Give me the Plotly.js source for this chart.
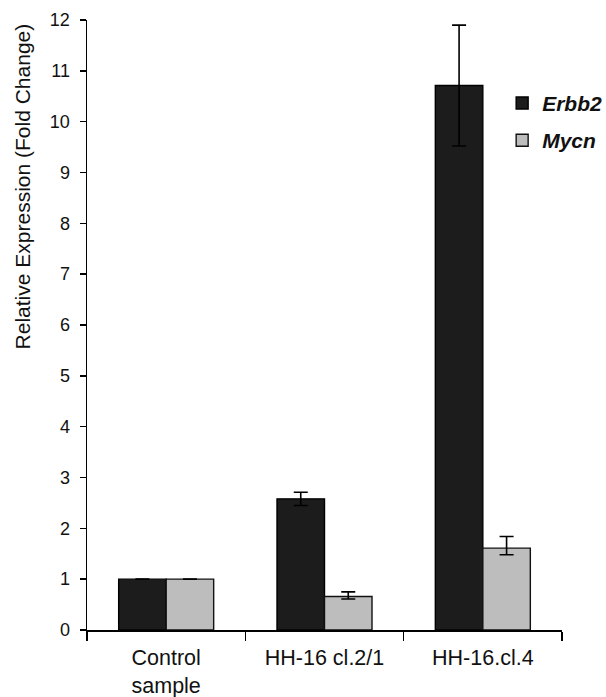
<!DOCTYPE html>
<html><head><meta charset="utf-8">
<script src="https://cdn.plot.ly/plotly-3.0.1.min.js"></script>
<style>body{margin:0;background:#fff}#c{width:606px;height:697px}</style>
</head><body><div id="c"></div>
<script>
const categories = ["Control<br>sample", "HH-16 cl.2/1", "HH-16.cl.4"];
const erbb2 = [1.0, 2.58, 10.71];
const erbb2Err = [0, 0.13, 1.19];
const mycn = [1.0, 0.66, 1.61];
const mycnErrPlus = [0, 0.09, 0.23];
const mycnErrMinus = [0, 0.05, 0.13];
const yTicks = [0,1,2,3,4,5,6,7,8,9,10,11,12];
const yTitle = 'Relative Expression (Fold Change)';

const traces = [
  {type:'bar', name:'<b><i>Erbb2</i></b>', x:categories, y:erbb2, legendgroup:'a',
   marker:{color:'#1c1c1c', line:{color:'#000', width:1.4}},
   error_y:{type:'data', array:erbb2Err, visible:true, color:'#000', thickness:1.6, width:7}},
  {type:'bar', name:'<b><i>Mycn</i></b>', x:categories, y:mycn, legendgroup:'b',
   marker:{color:'#bdbdbd', line:{color:'#111', width:1.4}},
   error_y:{type:'data', array:mycnErrPlus, arrayminus:mycnErrMinus, visible:true, color:'#000', thickness:1.6, width:7}}
];
const layout = {
  width:606, height:697,
  margin:{l:87, r:44, t:20, b:67, autoexpand:false},
  paper_bgcolor:'#fff', plot_bgcolor:'#fff',
  font:{family:'Liberation Sans, Arial, sans-serif', color:'#111', size:17},
  barmode:'group', bargap:0.4, bargroupgap:0,
  showlegend:true,
  legend:{x:0.874, y:0.897, xanchor:'left', yanchor:'top', bgcolor:'rgba(0,0,0,0)',
          font:{size:21, color:'#111'}, itemwidth:30, tracegroupgap:7, traceorder:'grouped'},
  xaxis:{type:'category', tickson:'boundaries', ticks:'outside', ticklen:9, tickwidth:1.5,
         tickcolor:'#000', showline:true, linecolor:'#000', linewidth:1.5,
         showgrid:false, tickfont:{size:21.5, color:'#111'}, zeroline:false, ticklabelstandoff:8,
         automargin:false},
  yaxis:{range:[0,12], tickvals:yTicks, ticks:'outside', ticklen:6, tickwidth:1.5,
         tickcolor:'#000', showline:true, linecolor:'#000', linewidth:1.5,
         showgrid:false, zeroline:false, tickfont:{size:18, color:'#111'}, ticklabelstandoff:6,
         automargin:false},
  annotations:[{text:yTitle, xref:'paper', yref:'paper', x:-0.135, y:0.727,
                xanchor:'center', yanchor:'middle', textangle:-90, showarrow:false,
                font:{size:21, color:'#111'}}]
};
Plotly.newPlot('c', traces, layout, {displayModeBar:false, staticPlot:true});
</script></body></html>
